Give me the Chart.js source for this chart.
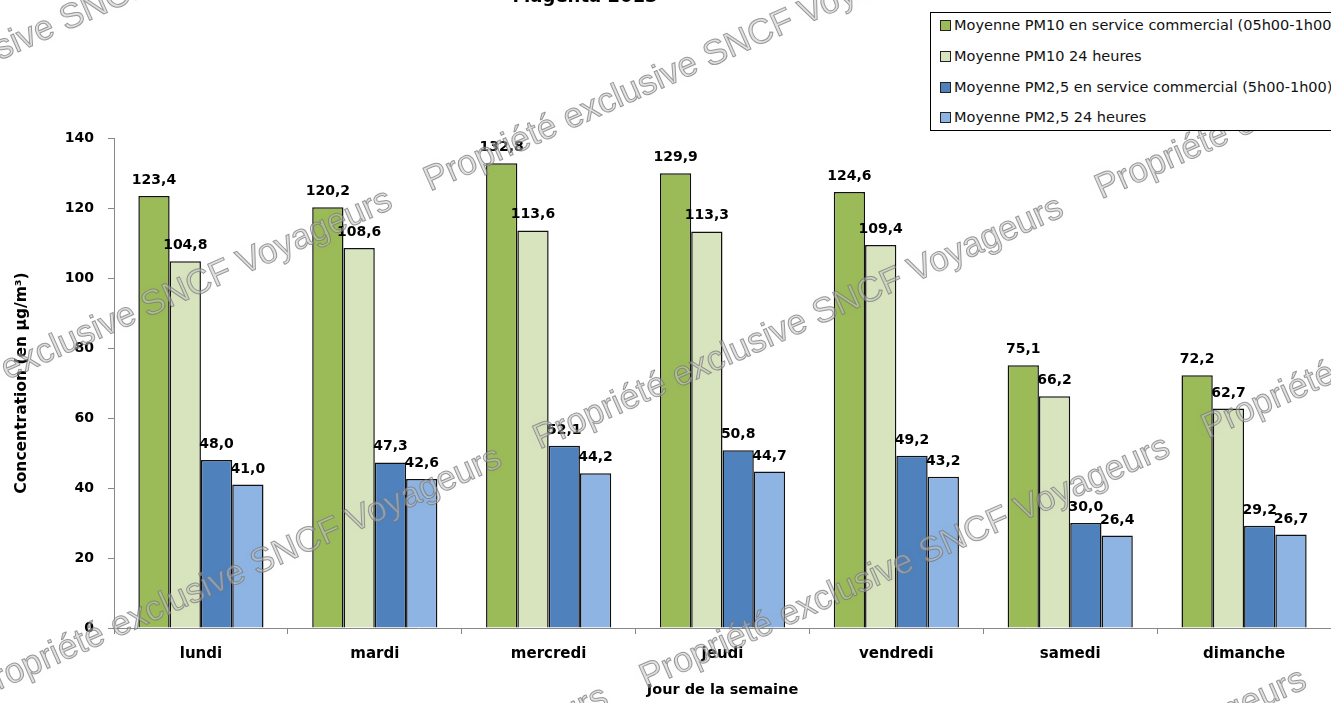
<!DOCTYPE html>
<html lang="fr">
<head>
<meta charset="utf-8">
<title>Magenta 2013</title>
<script src="https://cdn.jsdelivr.net/npm/chart.js@4.4.1/dist/chart.umd.min.js"></script>
<style>
  body { margin: 0; background: #fff; overflow: hidden; }
  #wrap { position: relative; width: 1331px; height: 703px; }
  #legende {
    position: absolute; left: 930px; top: 12px; width: 430px; height: 119px;
    border: 1.5px solid #000; background: #fff; box-sizing: border-box;
    font-family: "DejaVu Sans", sans-serif; font-size: 14.5px; color: #111;
  }
  #legende .item { position: absolute; left: 9px; height: 16px; line-height: 16px; white-space: nowrap; }
  #legende .carre { display: inline-block; width: 9px; height: 9px; border: 1px solid #222; margin-right: 3px; vertical-align: -1px; }
</style>
</head>
<body>
<div id="wrap">
  <canvas id="graphique" width="1331" height="703"></canvas>
  <div id="legende"></div>
</div>
<script>
const jours = ['lundi', 'mardi', 'mercredi', 'jeudi', 'vendredi', 'samedi', 'dimanche'];

const pm10Service = [123.4, 120.2, 132.8, 129.9, 124.6, 75.1, 72.2];
const pm10Jour = [104.8, 108.6, 113.6, 113.3, 109.4, 66.2, 62.7];
const pm25Service = [48.0, 47.3, 52.1, 50.8, 49.2, 30.0, 29.2];
const pm25Jour = [41.0, 42.6, 44.2, 44.7, 43.2, 26.4, 26.7];

const libelles = [
  'Moyenne PM10 en service commercial (05h00-1h00)',
  'Moyenne PM10 24 heures',
  'Moyenne PM2,5 en service commercial (5h00-1h00)',
  'Moyenne PM2,5 24 heures'
];
const couleurs = ['#9BBB59', '#D7E4BD', '#4F81BD', '#8DB4E2'];

const TITRE = 'Magenta 2013';
const FILIGRANE = 'Propriété exclusive SNCF Voyageurs';
const POLICE = '"DejaVu Sans"';

const formatVal = (v) => v.toFixed(1).replace('.', ',');

// valeurs au-dessus des barres
const etiquettes = {
  id: 'etiquettes',
  afterDatasetsDraw(chart) {
    const ctx = chart.ctx;
    ctx.save();
    ctx.font = 'bold 14px ' + POLICE;
    ctx.fillStyle = '#000';
    ctx.textAlign = 'center';
    ctx.textBaseline = 'alphabetic';
    chart.data.datasets.forEach((ds, i) => {
      chart.getDatasetMeta(i).data.forEach((barre, j) => {
        ctx.fillText(formatVal(ds.data[j]), barre.x, barre.y - 12);
      });
    });
    ctx.restore();
  }
};

// titre coupé en haut + filigrane
const decor = {
  id: 'decor',
  afterDraw(chart) {
    const ctx = chart.ctx;
    ctx.save();
    ctx.font = 'bold 18px ' + POLICE;
    ctx.fillStyle = '#000';
    ctx.textAlign = 'center';
    ctx.fillText(TITRE, 585, 2);
    ctx.restore();

    // lignes de filigrane : distance v et départ u dans le repère tourné
    const lignes = [[55, 357], [350, 315], [630, 310], [892, 310], [1160, 340]];
    ctx.save();
    ctx.rotate(-24 * Math.PI / 180);
    ctx.font = '35px "Liberation Sans"';
    ctx.lineWidth = 1;
    lignes.forEach(([v, u0]) => {
      for (let u = u0 - 615 * 3; u < 1400; u += 615) {
        ctx.shadowColor = 'rgba(0,0,0,0.09)';
        ctx.shadowBlur = 20;
        ctx.fillStyle = 'rgba(195,195,195,0.5)';
        ctx.fillText(FILIGRANE, u, v);
        ctx.shadowBlur = 0;
        ctx.strokeStyle = 'rgba(115,115,115,0.7)';
        ctx.strokeText(FILIGRANE, u, v);
      }
    });
    ctx.restore();
  }
};

const fondBlanc = {
  id: 'fondBlanc',
  beforeDraw(chart) {
    const ctx = chart.ctx;
    ctx.save();
    ctx.fillStyle = '#fff';
    ctx.fillRect(0, 0, chart.width, chart.height);
    ctx.restore();
  }
};

const series = [pm10Service, pm10Jour, pm25Service, pm25Jour];

const ctx = document.getElementById('graphique').getContext('2d');
const graphique = new Chart(ctx, {
  type: 'bar',
  data: {
    labels: jours,
    datasets: series.map((valeurs, i) => ({
      label: libelles[i],
      data: valeurs,
      backgroundColor: couleurs[i],
      borderColor: '#111',
      borderWidth: 1.5,
      categoryPercentage: 0.72,
      barPercentage: 1.0
    }))
  },
  options: {
    responsive: false,
    devicePixelRatio: 1,
    animation: false,
    layout: { padding: { top: 138, right: 0, left: 0, bottom: 0 } },
    plugins: {
      legend: { display: false },
      tooltip: { enabled: false }
    },
    scales: {
      x: {
        grid: { drawOnChartArea: false, drawTicks: true, tickLength: 6, color: '#888', offset: true },
        border: { color: '#888', width: 1 },
        ticks: { color: '#000', font: { family: 'DejaVu Sans', size: 15, weight: 'bold' }, padding: 11, maxRotation: 0 },
        title: {
          display: true,
          text: 'Jour de la semaine',
          color: '#000',
          font: { family: 'DejaVu Sans', size: 14.5, weight: 'bold' },
          padding: { top: 0, bottom: 4 }
        },
        afterFit: (scale) => { scale.height = 75; }
      },
      y: {
        min: 0,
        max: 140,
        ticks: { stepSize: 20, color: '#000', font: { family: 'DejaVu Sans', size: 14, weight: 'bold' }, padding: 14 },
        grid: { drawOnChartArea: false, drawTicks: true, tickLength: 6, color: '#888' },
        border: { color: '#888', width: 1 },
        title: {
          display: true,
          text: 'Concentration (en µg/m³)',
          color: '#000',
          font: { family: 'DejaVu Sans', size: 15.5, weight: 'bold' },
          padding: { top: 13, bottom: 0 }
        },
        afterFit: (scale) => { scale.width = 114; }
      }
    }
  },
  plugins: [fondBlanc, etiquettes, decor]
});

// légende encadrée en haut à droite
const legende = document.getElementById('legende');
const lignesY = [4, 35, 66, 96];
graphique.data.datasets.forEach((ds, i) => {
  const item = document.createElement('div');
  item.className = 'item';
  item.style.top = lignesY[i] + 'px';
  item.innerHTML = '<span class="carre" style="background:' + ds.backgroundColor + '"></span>' + ds.label;
  legende.appendChild(item);
});
</script>
</body>
</html>
